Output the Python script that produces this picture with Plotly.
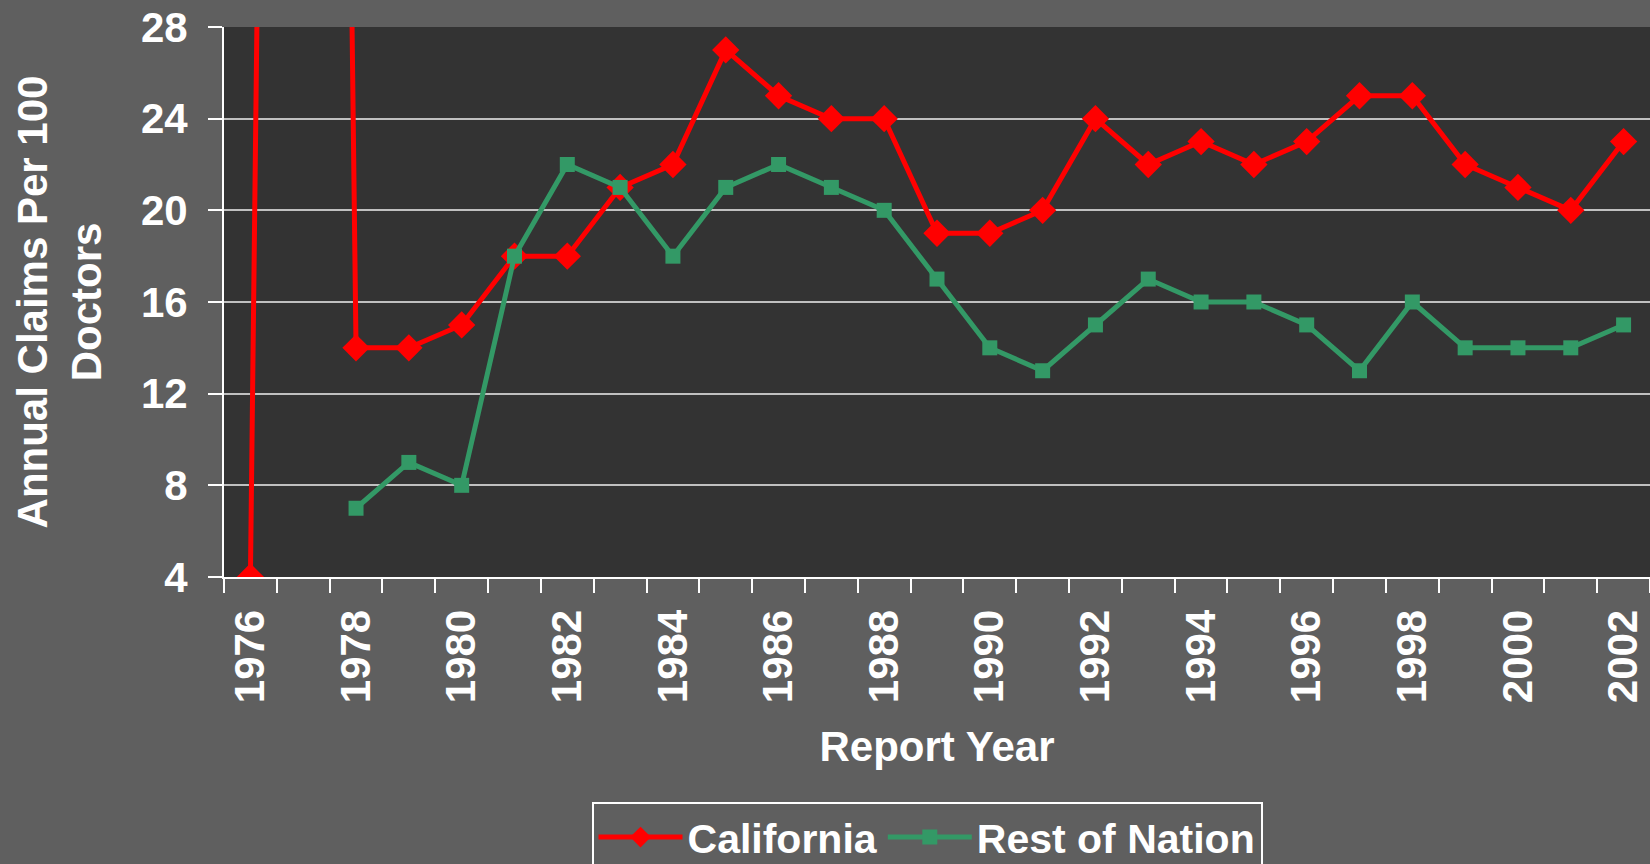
import plotly.graph_objects as go

years = [str(y) for y in range(1976, 2003)]
tick_text = [y if int(y) % 2 == 0 else "" for y in years]

# 1977 California point runs far off the top of the chart
california = [4, 200, 14, 14, 15, 18, 18, 21, 22, 27, 25, 24, 24, 19, 19, 20,
              24, 22, 23, 22, 23, 25, 25, 22, 21, 20, 23]
rest_of_nation = [None, None, 7, 9, 8, 18, 22, 21, 18, 21, 22, 21, 20, 17, 14, 13,
                  15, 17, 16, 16, 15, 13, 16, 14, 14, 14, 15]

font_family = "Liberation Sans, Arial, sans-serif"

fig = go.Figure()
fig.add_trace(go.Scatter(x=years, y=california, name="California", mode="lines+markers",
                         line=dict(color="#ff0000", width=5),
                         marker=dict(symbol="diamond", size=21, color="#ff0000")))
fig.add_trace(go.Scatter(x=years, y=rest_of_nation, name="Rest of Nation", mode="lines+markers",
                         line=dict(color="#339966", width=5),
                         marker=dict(symbol="square", size=15, color="#339966")))

fig.update_layout(
    width=1650, height=864,
    margin=dict(l=224, r=0, t=27, b=287, autoexpand=False),
    paper_bgcolor="#5f5f5f", plot_bgcolor="#333333",
    font=dict(family=font_family, size=42, color="white", weight="bold"),
    showlegend=True,
    legend=dict(orientation="h", x=0.493, xanchor="center", y=-0.409, yanchor="top",
                bordercolor="white", borderwidth=2, bgcolor="rgba(0,0,0,0)",
                itemwidth=84,
                font=dict(size=41, color="white", weight="bold")),
)

fig.update_xaxes(
    type="category", range=[-0.5, 26.5],
    tickmode="array", tickvals=years, ticktext=tick_text,
    tickson="boundaries", ticks="outside", ticklen=14, tickwidth=2, tickcolor="white",
    tickangle=-90, ticklabelstandoff=14,
    tickfont=dict(size=42, color="white", weight="bold"),
    showline=True, linecolor="white", linewidth=2, showgrid=False,
    title=dict(text="Report Year", font=dict(size=42, color="white", weight="bold"), standoff=29),
)

fig.update_yaxes(
    range=[4, 28], tick0=4, dtick=4,
    ticks="outside", ticklen=14, tickwidth=2, tickcolor="white",
    ticklabelstandoff=12,
    tickfont=dict(size=42, color="white", weight="bold"),
    showline=True, linecolor="white", linewidth=2,
    showgrid=True, gridcolor="#c0c0c0", gridwidth=2, zeroline=False,
    title=dict(text="Annual Claims Per 100<br>Doctors", font=dict(size=42, color="white", weight="bold"),
               standoff=26),
)

fig.write_html("out.html", config={"displayModeBar": False},
               post_script="document.body.style.margin = '0';")
